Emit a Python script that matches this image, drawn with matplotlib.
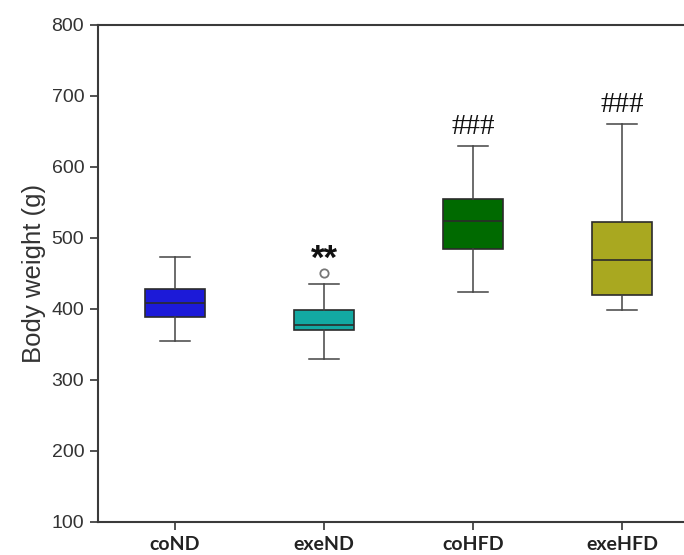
import matplotlib
matplotlib.use("Agg")
import matplotlib.pyplot as plt

# values (g)
groups = ["coND", "exeND", "coHFD", "exeHFD"]
whisker_low = [355, 329, 424, 399]
q1 = [389, 370, 485, 419]
median = [409, 378, 524, 469]
q3 = [428, 398, 555, 522]
whisker_high = [473, 435, 630, 660]
outliers = [[], [450], [], []]
marks = ["", "**", "###", "###"]

COLORS = ["#1c1ad8", "#13a9a2", "#006a00", "#a9a820"]
EDGE = "#2b2b2b"

plt.rcParams["font.family"] = ["Liberation Sans", "DejaVu Sans"]

fig = plt.figure(figsize=(6.84, 5.55), dpi=100)
ax = fig.add_axes([0.1433, 0.0595, 0.8567, 0.8955])

stats = []
for i, g in enumerate(groups):
    stats.append({
        "label": g, "whislo": whisker_low[i], "q1": q1[i], "med": median[i],
        "q3": q3[i], "whishi": whisker_high[i], "fliers": outliers[i],
    })

bp = ax.bxp(
    stats, positions=range(1, 5), widths=0.40, patch_artist=True,
    boxprops=dict(edgecolor=EDGE, linewidth=1.2),
    medianprops=dict(color=EDGE, linewidth=1.2),
    whiskerprops=dict(color="#444444", linewidth=1.1),
    capprops=dict(color="#444444", linewidth=1.1),
    capwidths=0.2,
    flierprops=dict(marker="o", markerfacecolor="none", markeredgecolor="#777777",
                    markersize=6, markeredgewidth=1.3),
)
for patch, c in zip(bp["boxes"], COLORS):
    patch.set_facecolor(c)

for i, m in enumerate(marks):
    if not m:
        continue
    top = max([whisker_high[i]] + outliers[i])
    if m.startswith("*"):
        ax.text(i + 1, top + 20, m, ha="center", va="center", fontsize=25,
                fontweight="bold", color="#111111")
    else:
        ax.text(i + 1, top + 27, m, ha="center", va="center", fontsize=21,
                family=["Liberation Serif", "DejaVu Serif"], color="#111111")

ax.set_xlim(0.483, 4.416)
ax.set_ylim(100, 800)
ax.set_yticks(range(100, 801, 100))
ax.set_xticks(range(1, 5))
ax.set_xticklabels(groups, fontsize=14, fontweight="bold",
                   family=["Lato", "DejaVu Sans"], color="#222222")
ax.tick_params(axis="y", labelsize=14, labelcolor="#333333", length=6,
               width=1.2, color="#333333", pad=4)
ax.tick_params(axis="x", length=6, width=1.2, color="#333333", pad=4)
ax.set_ylabel("Body weight (g)", fontsize=18.5, color="#333333", labelpad=4)

ax.spines["right"].set_visible(False)
for s in ["left", "bottom", "top"]:
    ax.spines[s].set_color("#3a3a3a")
    ax.spines[s].set_linewidth(1.5)

fig.savefig("out.png", dpi=100, facecolor="white")
